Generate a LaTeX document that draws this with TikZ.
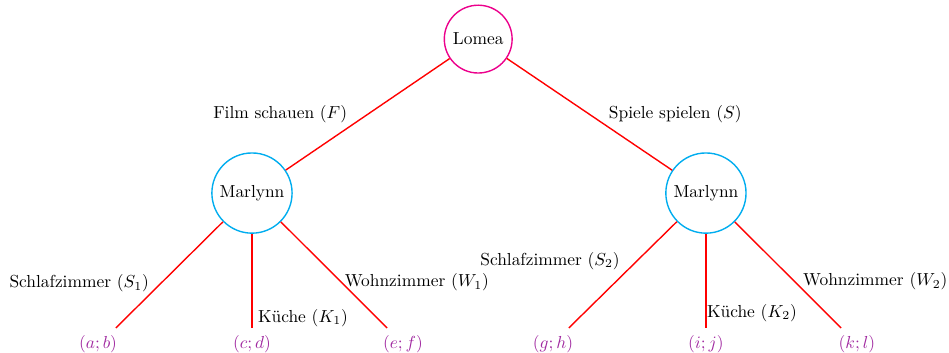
\documentclass[tikz,border=0pt]{standalone}
\usepackage{tikz}

\definecolor{lomeacol}{cmyk}{0,1,0,0}
\definecolor{marlynncol}{cmyk}{1,0,0,0}
\definecolor{payoffcol}{RGB}{160,40,160}

\begin{document}
\begin{tikzpicture}[
        player/.style={
            circle,
            thick,
            fill=white,
            inner sep=0pt
        },
        move/.style={
            thick,
            draw=red
        },
        payoff/.style={
            text=payoffcol
        }
    ]

    \useasboundingbox (0, 0) rectangle (19.17, 7.13);

    \node[player, draw=lomeacol, minimum size=1.37cm] (lomea) at (9.66, 6.34) {Lomea};
    \node[player, draw=marlynncol, minimum size=1.62cm] (marl_f) at (5.09, 3.23) {Marlynn};
    \node[player, draw=marlynncol, minimum size=1.62cm] (marl_s) at (14.26, 3.23) {Marlynn};

    \coordinate (end_s1) at (2.34, 0.505);
    \coordinate (end_k1) at (5.09, 0.505);
    \coordinate (end_w1) at (7.82, 0.505);
    \coordinate (end_s2) at (11.49, 0.505);
    \coordinate (end_k2) at (14.26, 0.505);
    \coordinate (end_w2) at (16.99, 0.505);

    \node[payoff] (pay_ab) at (1.98, 0.18)  {$(a;b)$};
    \node[payoff] (pay_cd) at (5.09, 0.18)  {$(c;d)$};
    \node[payoff] (pay_ef) at (8.14, 0.18)  {$(e;f)$};
    \node[payoff] (pay_gh) at (11.17, 0.18) {$(g;h)$};
    \node[payoff] (pay_ij) at (14.26, 0.18) {$(i;j)$};
    \node[payoff] (pay_kl) at (17.31, 0.18) {$(k;l)$};

    \draw[move] (lomea) -- (marl_f);
    \draw[move] (lomea) -- (marl_s);
    \draw[move] (marl_f) -- (end_s1);
    \draw[move] (marl_f) -- (end_k1);
    \draw[move] (marl_f) -- (end_w1);
    \draw[move] (marl_s) -- (end_s2);
    \draw[move] (marl_s) -- (end_k2);
    \draw[move] (marl_s) -- (end_w2);

    \node (lab_f)  at (5.66, 4.83)  {Film schauen $(F)$};
    \node (lab_s)  at (13.64, 4.83) {Spiele spielen $(S)$};
    \node (lab_s1) at (1.60, 1.41)  {Schlafzimmer $(S_1)$};
    \node (lab_k1) at (6.12, 0.71)  {Küche $(K_1)$};
    \node (lab_w1) at (8.42, 1.43)  {Wohnzimmer $(W_1)$};
    \node (lab_s2) at (11.11, 1.86) {Schlafzimmer $(S_2)$};
    \node (lab_k2) at (15.19, 0.81) {Küche $(K_2)$};
    \node (lab_w2) at (17.68, 1.45) {Wohnzimmer $(W_2)$};

\end{tikzpicture}
\end{document}
